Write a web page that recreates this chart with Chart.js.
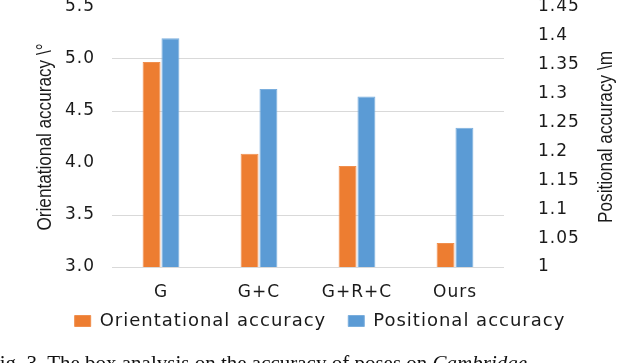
<!DOCTYPE html>
<html>
<head>
<meta charset="utf-8">
<script src="https://cdn.jsdelivr.net/npm/chart.js@4.4.1/dist/chart.umd.min.js"></script>
<style>
  html, body { margin: 0; padding: 0; background: #fff; overflow: hidden; }
  #wrap { position: relative; width: 640px; height: 363px; }
  #caption {
    position: absolute; left: -12px; top: 351px;
    font-family: "Liberation Serif", "Times New Roman", serif; font-size: 21px;
    color: #111; white-space: nowrap;
  }
</style>
</head>
<body>
<div id="wrap">
  <canvas id="chart" width="640" height="363"></canvas>
  <div id="caption">Fig. 3. The box analysis on the accuracy of poses on <i>Cambridge</i></div>
</div>
<script>
// categories and values
const methods = ["G", "G+C", "G+R+C", "Ours"];
const orientational = [4.97, 4.09, 3.97, 3.23];   // degrees, left axis
const positional = [1.396, 1.308, 1.295, 1.241];  // metres, right axis

const leftTitle = "Orientational accuracy \\°";
const rightTitle = "Positional accuracy \\m";

const tickFont = { family: "DejaVu Sans", size: 17 };

// the original text looks stretched sideways, so widen the letters a bit
const spacingPlugin = {
  id: "spacing",
  beforeLayout(chart) { chart.ctx.letterSpacing = "1px"; },
  afterLayout(chart) {
    // pull the legend up under the category labels
    chart.legend.top = 290;
  },
  beforeDraw(chart) { chart.ctx.letterSpacing = "1px"; },
};

// both axis titles are narrow and read bottom-to-top, so draw them by hand
function drawTitle(ctx, text, x, y, length) {
  ctx.save();
  ctx.letterSpacing = "0px";
  ctx.font = '20px "Liberation Sans", sans-serif';
  const w = ctx.measureText(text).width;
  ctx.translate(x, y);
  ctx.rotate(-Math.PI / 2);
  ctx.scale(length / w, 1);
  ctx.fillStyle = "#1a1a1a";
  ctx.textAlign = "center";
  ctx.textBaseline = "middle";
  ctx.fillText(text, 0, 0);
  ctx.restore();
}

const titlePlugin = {
  id: "axisTitles",
  afterDraw(chart) {
    const ca = chart.chartArea;
    const mid = (ca.top + ca.bottom) / 2;
    drawTitle(chart.ctx, leftTitle, 45, mid, 187);
    drawTitle(chart.ctx, rightTitle, 606, mid, 172);
  }
};

// keep the value axes from adding label room above and below the plot
function fixY(width) {
  return (scale) => {
    scale.width = width;
    scale.paddingTop = 0;
    scale.paddingBottom = 0;
  };
}

const ctx = document.getElementById("chart").getContext("2d");
const chart = new Chart(ctx, {
  type: "bar",
  data: {
    labels: methods,
    datasets: [
      {
        label: "Orientational accuracy",
        data: orientational,
        yAxisID: "y",
        backgroundColor: "#ED7D31",
        borderColor: "#F08F4E",
        borderWidth: 1,
      },
      {
        label: "Positional accuracy",
        data: positional,
        yAxisID: "y1",
        backgroundColor: "#5B9BD5",
        borderColor: "#7AAEDD",
        borderWidth: 1,
      },
    ],
  },
  options: {
    responsive: false,
    animation: false,
    datasets: { bar: { categoryPercentage: 0.385, barPercentage: 0.95 } },
    layout: { autoPadding: false, padding: { top: 7, bottom: 13, left: 0, right: 0 } },
    scales: {
      x: {
        afterFit: (scale) => { scale.height = 33; },
        grid: { display: false, drawTicks: false },
        border: { display: false },
        ticks: { color: "#1a1a1a", font: tickFont, padding: 15, maxRotation: 0 },
      },
      y: {
        position: "left",
        min: 3.0,
        max: 5.5,
        afterFit: fixY(112),
        grid: {
          drawTicks: false,
          lineWidth: 1,
          color: (c) => (c.tick && (c.tick.value === 4 || c.tick.value === 5.5)) ? "rgba(0,0,0,0)" : "#D9D9D9",
        },
        border: { display: false },
        ticks: {
          stepSize: 0.5,
          padding: 17,
          autoSkip: false,
          color: "#1a1a1a",
          font: tickFont,
          callback: (v) => Number(v).toFixed(1),
        },
      },
      y1: {
        position: "right",
        min: 1.0,
        max: 1.45,
        afterFit: fixY(136),
        grid: { display: false, drawTicks: false },
        border: { display: false },
        ticks: {
          stepSize: 0.05,
          padding: 34,
          autoSkip: false,
          color: "#1a1a1a",
          font: tickFont,
          callback: (v) => String(Number(Number(v).toFixed(2))),
        },
      },
    },
    plugins: {
      legend: {
        position: "bottom",
        labels: {
          boxWidth: 16,
          boxHeight: 11,
          padding: 22,
          color: "#1a1a1a",
          font: { family: "DejaVu Sans", size: 18 },
        },
      },
      tooltip: { enabled: false },
    },
  },
  plugins: [spacingPlugin, titlePlugin],
});
</script>
</body>
</html>
